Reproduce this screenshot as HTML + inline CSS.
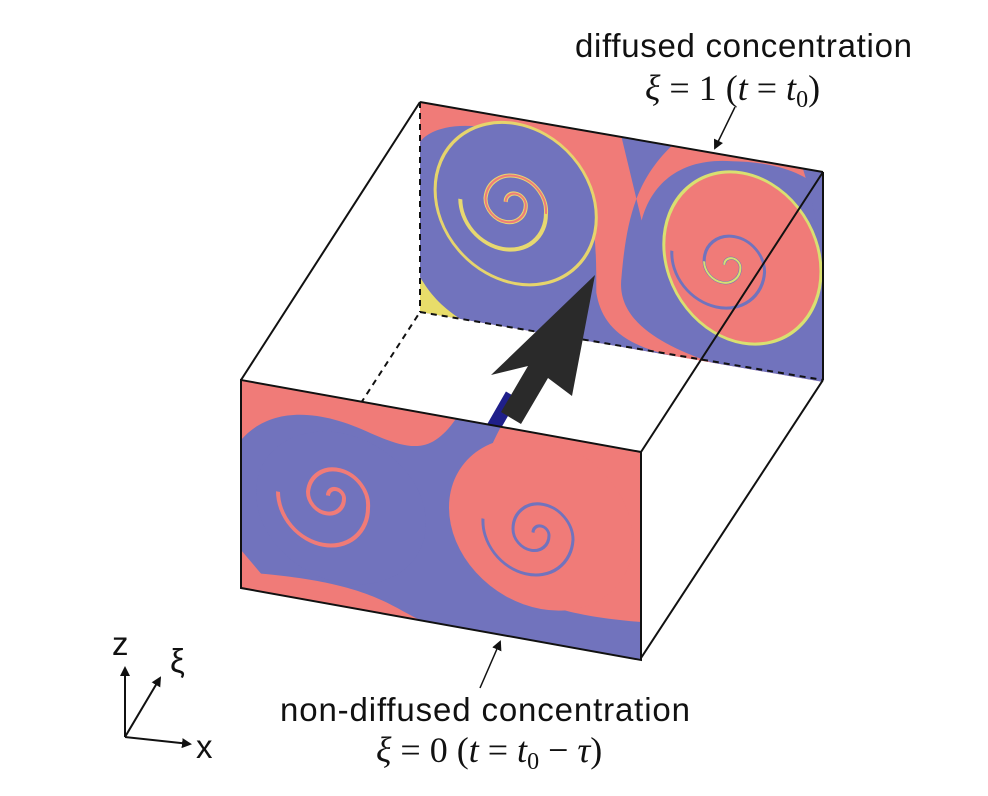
<!DOCTYPE html>
<html><head><meta charset="utf-8"><style>
html,body{margin:0;padding:0;background:#fff;}
svg{display:block;}
.lab{font-family:"Liberation Sans",sans-serif;font-size:33px;fill:#111;}
.math{font-family:"Liberation Serif",serif;font-size:36px;fill:#111;}
</style></head><body>
<svg width="988" height="796" viewBox="0 0 988 796">
<defs>
<clipPath id="cb"><rect x="0" y="0" width="400" height="210"/></clipPath>
<clipPath id="cf"><rect x="0" y="0" width="400" height="208"/></clipPath>
<marker id="ah" markerWidth="10" markerHeight="10" refX="8" refY="5" orient="auto" markerUnits="userSpaceOnUse"><path d="M0,0 L10,5 L0,10 z" fill="#111"/></marker>
</defs>

<g transform="matrix(1.0075,0.175,0,1,420,102)">
<g clip-path="url(#cb)">
<rect width="400" height="210" fill="#f07b78"/>
<path d="M0,40 C20,10 90,5 140,30 C175,50 175,110 175,160 C180,190 200,210 260,210 L0,210 Z" fill="#7173bd"/>
<path d="M200,0 L250,0 C215,40 205,80 200,140 C195,180 230,200 290,210 L400,210 L400,20 C380,0 340,0 310,5 C260,10 230,40 220,80 Z" fill="#7173bd"/>
<ellipse cx="320" cy="100" rx="78" ry="85" fill="#f07b78" stroke="#d9e070" stroke-width="3"/>
<ellipse cx="95" cy="85" rx="80" ry="80" fill="#7173bd" stroke="#e6d46c" stroke-width="3"/>
<path d="M95,85 m-10,0 a10,10 0 1,1 20,0 a20,20 0 1,1 -40,0 a30,30 0 1,1 60,5 a42,42 0 1,1 -85,0" fill="none" stroke="#e7d870" stroke-width="4"/>
<path d="M95,85 m-10,0 a10,10 0 1,1 20,0 a20,20 0 1,1 -40,0 a30,30 0 1,1 60,5" fill="none" stroke="#f07b78" stroke-width="2"/>
<path d="M310,110 m-8,0 a8,8 0 1,1 16,0 a18,18 0 1,1 -36,0 a30,30 0 1,1 60,0 a45,45 0 1,1 -92,-5" fill="none" stroke="#7173bd" stroke-width="3"/>
<path d="M310,110 m-8,0 a8,8 0 1,1 16,0 a18,18 0 1,1 -36,0" fill="none" stroke="#d7e070" stroke-width="2"/>
<path d="M0,175 C10,190 20,200 40,210 L0,210Z" fill="#e8dd6a"/>
<path d="M380,0 C390,30 395,60 400,80 L400,0Z" fill="#7173bd"/>
</g></g>

<g fill="none" stroke="#111" stroke-width="2">
<line x1="420" y1="102" x2="420" y2="312" stroke-dasharray="6,5"/>
<line x1="420" y1="312" x2="823" y2="380" stroke-dasharray="6,5"/>
<line x1="241" y1="588" x2="420" y2="312" stroke-dasharray="6,5"/>
<line x1="420" y1="102" x2="823" y2="172"/>
<line x1="823" y1="172" x2="823" y2="380"/>
<line x1="241" y1="380" x2="420" y2="102"/>
<line x1="641" y1="452" x2="823" y2="172"/>
<line x1="641" y1="658" x2="823" y2="380"/>
</g>

<g>
<line x1="462" y1="482" x2="512" y2="395" stroke="#1f1f8a" stroke-width="14"/>
<path d="M595,275 L572,396 L548,378 L521,424 L501,412 L528,366 L491,375 Z" fill="#2a2a2a"/>
</g>

<g transform="matrix(1,0.18,0,1,241,380)">
<g clip-path="url(#cf)">
<rect width="400" height="208" fill="#f07b78"/>
<path d="M0,60 C30,20 80,15 130,30 C170,40 190,40 215,0 L260,0 C240,40 230,80 240,120 C255,165 300,180 400,170 L400,208 L180,208 C150,200 130,180 20,190 L0,170 Z" fill="#7173bd"/>
<ellipse cx="300" cy="90" rx="92" ry="85" fill="#f07b78"/>
<ellipse cx="100" cy="110" rx="85" ry="75" fill="#7173bd"/>
<path d="M95,100 m-8,0 a8,8 0 1,1 16,0 a18,18 0 1,1 -36,0 a30,30 0 1,1 60,5 a45,45 0 1,1 -90,0" fill="none" stroke="#f07b78" stroke-width="4"/>
<path d="M300,100 m-8,0 a8,8 0 1,1 16,0 a18,18 0 1,1 -36,0 a30,30 0 1,1 60,0 a45,45 0 1,1 -90,-5" fill="none" stroke="#7173bd" stroke-width="3"/>
<path d="M0,190 L20,208 L0,208Z" fill="#f07b78"/>
</g>
<rect width="400" height="208" fill="none" stroke="#111" stroke-width="2"/>
</g>

<text class="lab" x="575" y="57" textLength="337">diffused concentration</text>
<text class="math" x="645" y="100"><tspan font-style="italic">ξ</tspan> = 1 (<tspan font-style="italic">t</tspan> = <tspan font-style="italic">t</tspan><tspan font-size="24" dy="7">0</tspan><tspan dy="-7">)</tspan></text>
<line x1="735" y1="107" x2="715" y2="148" stroke="#111" stroke-width="1.5" marker-end="url(#ah)"/>
<text class="lab" x="280" y="721" textLength="410">non-diffused concentration</text>
<text class="math" x="376" y="762"><tspan font-style="italic">ξ</tspan> = 0 (<tspan font-style="italic">t</tspan> = <tspan font-style="italic">t</tspan><tspan font-size="24" dy="7">0</tspan><tspan dy="-7"> − </tspan><tspan font-style="italic">τ</tspan>)</text>
<line x1="480" y1="688" x2="500" y2="642" stroke="#111" stroke-width="1.5" marker-end="url(#ah)"/>

<g stroke="#111" stroke-width="2">
<line x1="125" y1="737" x2="125" y2="668" marker-end="url(#ah)"/>
<line x1="125" y1="737" x2="160" y2="678" marker-end="url(#ah)"/>
<line x1="125" y1="737" x2="190" y2="744" marker-end="url(#ah)"/>
</g>
<text class="lab" x="112" y="655">z</text>
<text class="lab" x="170" y="672">ξ</text>
<text class="lab" x="196" y="758">x</text>
</svg>
</body></html>
